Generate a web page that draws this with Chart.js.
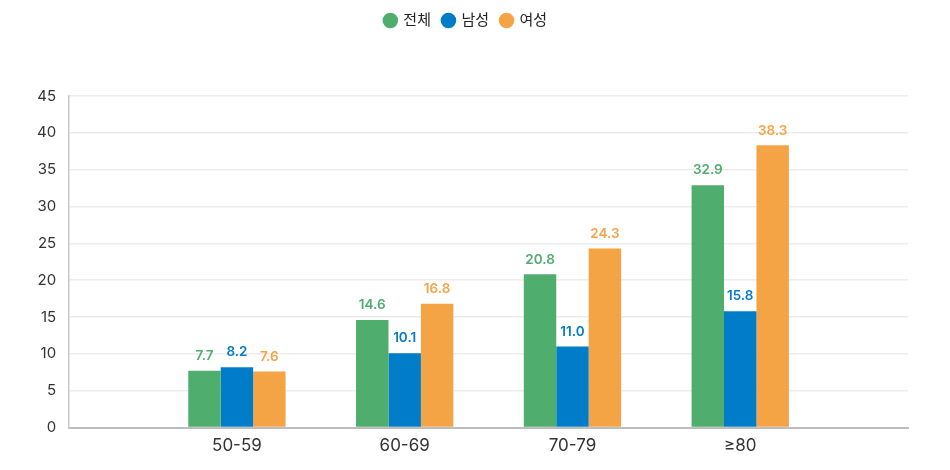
<!DOCTYPE html>
<html lang="ko">
<head>
<meta charset="utf-8">
<script src="https://cdn.jsdelivr.net/npm/chart.js@4/dist/chart.umd.min.js"></script>
<style>
  html, body { margin: 0; padding: 0; background: #ffffff; }
  #wrap { width: 950px; height: 470px; }
</style>
</head>
<body>
<div id="wrap"><canvas id="grafico"></canvas></div>
<script>
// DADOS DO GRÁFICO
const categorias = ["50-59", "60-69", "70-79", "≥80"];
const series = ["전체", "남성", "여성"];
const valoresTotal = [7.7, 14.6, 20.8, 32.9];
const valoresHomens = [8.2, 10.1, 11.0, 15.8];
const valoresMulheres = [7.6, 16.8, 24.3, 38.3];
const ticksY = [0, 5, 10, 15, 20, 25, 30, 35, 40, 45];

const cores = ["#4fad6e", "#007cc8", "#f4a445"];
const fonte = "Inter, 'Noto Sans CJK KR', sans-serif";

// Espaços vazios nas pontas do eixo X
const rotulos = ["", ...categorias, ""];
const preencher = (arr) => [null, ...arr, null];

// PLUGIN: valores acima das barras
const rotulosBarras = {
    id: "rotulosBarras",
    afterDatasetsDraw(chart) {
        const ctx = chart.ctx;
        ctx.save();
        ctx.font = "600 13.5px " + fonte;
        ctx.textAlign = "center";
        ctx.textBaseline = "bottom";
        chart.data.datasets.forEach((ds, i) => {
            const meta = chart.getDatasetMeta(i);
            meta.data.forEach((bar, j) => {
                const v = ds.data[j];
                if (v === null || v === undefined) return;
                ctx.fillStyle = cores[i];
                ctx.fillText(v.toFixed(1), bar.x, bar.y - 8);
            });
        });
        ctx.restore();
    }
};

// PLUGIN: espaço abaixo da legenda
const espacoLegenda = {
    id: "espacoLegenda",
    beforeInit(chart) {
        const fitOriginal = chart.legend.fit;
        chart.legend.fit = function () {
            fitOriginal.bind(chart.legend)();
            this.height += 58;
        };
    }
};

new Chart(document.getElementById("grafico"), {
    type: "bar",
    data: {
        labels: rotulos,
        datasets: [
            { label: series[0], data: preencher(valoresTotal), backgroundColor: cores[0] },
            { label: series[1], data: preencher(valoresHomens), backgroundColor: cores[1] },
            { label: series[2], data: preencher(valoresMulheres), backgroundColor: cores[2] }
        ]
    },
    options: {
        responsive: true,
        maintainAspectRatio: false,
        animation: false,
        categoryPercentage: 0.58,
        barPercentage: 1,
        layout: { padding: { top: 1, right: 42, bottom: 6, left: 24 } },
        plugins: {
            legend: {
                position: "top",
                labels: {
                    usePointStyle: true,
                    pointStyle: "circle",
                    boxWidth: 11,
                    boxHeight: 11,
                    padding: 12,
                    color: "#222",
                    font: { family: fonte, size: 15 }
                }
            },
            tooltip: { enabled: false }
        },
        scales: {
            x: {
                offset: false,
                grid: { display: false, drawTicks: false },
                border: { display: true, color: "#bdbdbd", width: 2 },
                ticks: {
                    color: "#333",
                    padding: 8,
                    font: { family: fonte, size: 17 }
                }
            },
            y: {
                min: 0,
                max: 45,
                afterBuildTicks: (axis) => {
                    axis.ticks = ticksY.map((v) => ({ value: v }));
                },
                grid: { color: "#ececec", lineWidth: 1.5, drawTicks: false },
                border: { display: true, color: "#c8c8c8", width: 1.5 },
                ticks: {
                    color: "#333",
                    padding: 13,
                    font: { family: fonte, size: 15 }
                }
            }
        }
    },
    plugins: [rotulosBarras, espacoLegenda]
});
</script>
</body>
</html>
